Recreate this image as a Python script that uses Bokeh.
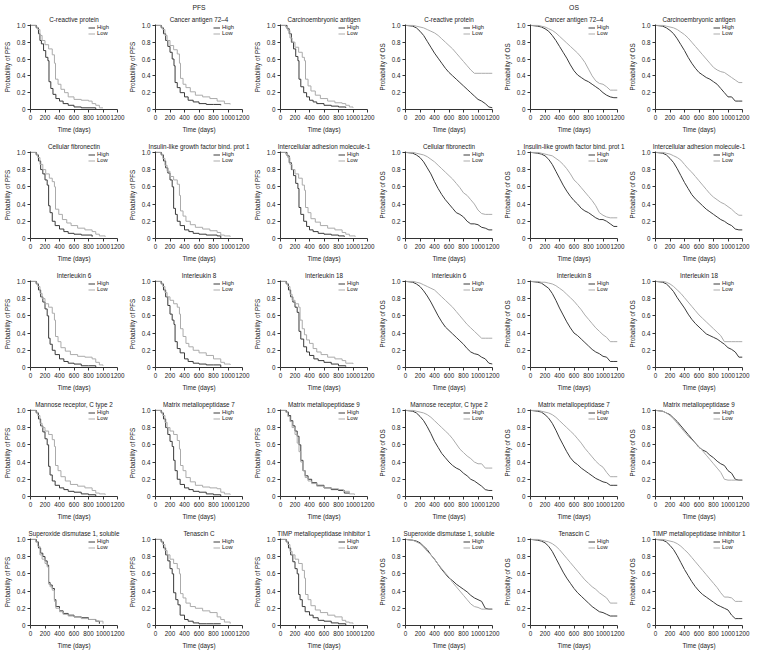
from bokeh.plotting import figure
from bokeh.layouts import gridplot
from bokeh.models import Range1d, FixedTicker, Title, Legend, LegendItem, PrintfTickFormatter
from bokeh.embed import file_html
from bokeh.resources import INLINE

FONT = "Liberation Sans"
HIGH_COLOR = "#3a3a3a"
LOW_COLOR = "#ababab"
TEXT_COLOR = "#222222"

X_TICKS = [0, 200, 400, 600, 800, 1000, 1200]
Y_TICKS = [0, 0.2, 0.4, 0.6, 0.8, 1.0]

MARKERS = [
    "C-reactive protein", "Cancer antigen 72\u20134", "Carcinoembryonic antigen",
    "Cellular fibronectin", "Insulin-like growth factor bind. prot 1", "Intercellular adhesion molecule-1",
    "Interleukin 6", "Interleukin 8", "Interleukin 18",
    "Mannose receptor, C type 2", "Matrix metallopeptidase 7", "Matrix metallopeptidase 9",
    "Superoxide dismutase 1, soluble", "Tenascin C", "TIMP metallopeptidase inhibitor 1",
]

# ---------------- PFS (per-curve step points) ----------------
PFS_CRP_HIGH_T = [0, 80, 110, 130, 150, 180, 210, 240, 255, 280, 310, 350, 400, 450, 520, 600, 700, 900]
PFS_CRP_HIGH_S = [1.0, 0.97, 0.9, 0.82, 0.78, 0.7, 0.62, 0.58, 0.33, 0.25, 0.18, 0.13, 0.1, 0.07, 0.05, 0.03, 0.02, 0.0]
PFS_CRP_LOW_T = [0, 70, 100, 130, 160, 200, 250, 300, 330, 345, 380, 420, 470, 520, 600, 700, 800, 850, 900, 950, 1000]
PFS_CRP_LOW_S = [1.0, 0.98, 0.95, 0.88, 0.82, 0.77, 0.72, 0.65, 0.55, 0.36, 0.3, 0.24, 0.2, 0.15, 0.12, 0.11, 0.1, 0.07, 0.05, 0.02, 0.02]

PFS_CA_HIGH_T = [0, 80, 110, 140, 170, 200, 230, 255, 270, 300, 340, 400, 450, 520, 600, 700, 800, 900]
PFS_CA_HIGH_S = [1.0, 0.97, 0.9, 0.82, 0.75, 0.68, 0.6, 0.52, 0.32, 0.26, 0.2, 0.15, 0.11, 0.09, 0.07, 0.06, 0.06, 0.05]
PFS_CA_LOW_T = [0, 70, 100, 130, 160, 200, 250, 300, 330, 345, 380, 420, 480, 550, 650, 750, 850, 950, 1030]
PFS_CA_LOW_S = [1.0, 0.98, 0.95, 0.88, 0.82, 0.76, 0.71, 0.66, 0.55, 0.37, 0.3, 0.26, 0.21, 0.17, 0.15, 0.13, 0.1, 0.07, 0.06]

PFS_CEA_HIGH_T = [0, 90, 120, 150, 180, 210, 240, 255, 280, 320, 360, 400, 450, 500, 600, 700, 800, 900]
PFS_CEA_HIGH_S = [1.0, 0.96, 0.9, 0.8, 0.72, 0.63, 0.58, 0.36, 0.27, 0.2, 0.15, 0.11, 0.09, 0.07, 0.05, 0.04, 0.03, 0.02]
PFS_CEA_LOW_T = [0, 70, 100, 130, 160, 200, 250, 300, 330, 345, 380, 420, 480, 550, 650, 750, 850, 900, 950, 1000]
PFS_CEA_LOW_S = [1.0, 0.98, 0.94, 0.85, 0.8, 0.74, 0.68, 0.62, 0.58, 0.36, 0.28, 0.22, 0.17, 0.13, 0.1, 0.08, 0.07, 0.05, 0.03, 0.02]

PFS_CF_HIGH_T = [0, 80, 110, 140, 170, 200, 230, 250, 270, 300, 340, 400, 460, 520, 600, 700, 850]
PFS_CF_HIGH_S = [1.0, 0.97, 0.9, 0.8, 0.75, 0.68, 0.62, 0.38, 0.3, 0.2, 0.15, 0.11, 0.08, 0.06, 0.05, 0.04, 0.02]
PFS_CF_LOW_T = [0, 70, 100, 130, 170, 210, 260, 300, 330, 345, 390, 440, 500, 560, 650, 750, 850, 900, 950, 1030]
PFS_CF_LOW_S = [1.0, 0.98, 0.94, 0.86, 0.8, 0.75, 0.7, 0.66, 0.6, 0.34, 0.28, 0.22, 0.18, 0.15, 0.12, 0.1, 0.08, 0.05, 0.03, 0.02]

PFS_IGF_HIGH_T = [0, 80, 110, 140, 170, 200, 230, 250, 275, 300, 340, 400, 460, 520, 600, 700, 850, 900]
PFS_IGF_HIGH_S = [1.0, 0.97, 0.9, 0.82, 0.76, 0.68, 0.6, 0.35, 0.28, 0.2, 0.15, 0.1, 0.08, 0.06, 0.05, 0.04, 0.03, 0.0]
PFS_IGF_LOW_T = [0, 70, 100, 130, 160, 200, 250, 300, 330, 345, 380, 420, 480, 550, 650, 750, 850, 900, 950, 1030]
PFS_IGF_LOW_S = [1.0, 0.98, 0.93, 0.85, 0.78, 0.72, 0.68, 0.63, 0.5, 0.32, 0.26, 0.2, 0.16, 0.13, 0.11, 0.09, 0.07, 0.04, 0.03, 0.02]

PFS_ICAM_HIGH_T = [0, 90, 120, 150, 180, 210, 240, 255, 280, 320, 360, 400, 450, 520, 600, 700, 800, 880]
PFS_ICAM_HIGH_S = [1.0, 0.96, 0.88, 0.8, 0.73, 0.64, 0.58, 0.36, 0.28, 0.2, 0.14, 0.1, 0.08, 0.06, 0.05, 0.04, 0.03, 0.02]
PFS_ICAM_LOW_T = [0, 70, 100, 130, 160, 200, 250, 300, 330, 345, 380, 420, 480, 550, 650, 750, 850, 900, 950, 1030]
PFS_ICAM_LOW_S = [1.0, 0.98, 0.94, 0.86, 0.8, 0.75, 0.7, 0.62, 0.56, 0.36, 0.3, 0.23, 0.19, 0.15, 0.12, 0.1, 0.07, 0.05, 0.03, 0.02]

PFS_IL6_HIGH_T = [0, 80, 110, 140, 170, 200, 230, 250, 270, 300, 340, 400, 460, 520, 600, 700, 800, 900]
PFS_IL6_HIGH_S = [1.0, 0.97, 0.9, 0.82, 0.76, 0.68, 0.6, 0.34, 0.27, 0.2, 0.15, 0.1, 0.07, 0.05, 0.04, 0.02, 0.02, 0.0]
PFS_IL6_LOW_T = [0, 70, 100, 130, 160, 200, 250, 300, 330, 345, 380, 420, 480, 550, 650, 750, 850, 900, 950, 1000]
PFS_IL6_LOW_S = [1.0, 0.98, 0.94, 0.86, 0.8, 0.74, 0.7, 0.63, 0.55, 0.36, 0.3, 0.23, 0.19, 0.15, 0.13, 0.12, 0.1, 0.06, 0.03, 0.02]

PFS_IL8_HIGH_T = [0, 80, 110, 140, 170, 200, 230, 255, 270, 300, 340, 400, 450, 520, 600, 700, 800, 900]
PFS_IL8_HIGH_S = [1.0, 0.97, 0.9, 0.82, 0.72, 0.62, 0.55, 0.5, 0.3, 0.22, 0.17, 0.1, 0.07, 0.05, 0.04, 0.03, 0.03, 0.0]
PFS_IL8_LOW_T = [0, 70, 100, 130, 160, 200, 250, 300, 330, 345, 380, 420, 460, 520, 600, 700, 800, 900, 950, 1030]
PFS_IL8_LOW_S = [1.0, 0.98, 0.94, 0.87, 0.82, 0.78, 0.74, 0.7, 0.62, 0.45, 0.36, 0.28, 0.24, 0.2, 0.17, 0.14, 0.1, 0.06, 0.04, 0.03]

PFS_IL18_HIGH_T = [0, 80, 110, 140, 170, 200, 230, 255, 280, 320, 360, 400, 460, 520, 600, 700, 800, 900]
PFS_IL18_HIGH_S = [1.0, 0.97, 0.9, 0.82, 0.76, 0.7, 0.64, 0.42, 0.33, 0.24, 0.18, 0.14, 0.1, 0.08, 0.06, 0.04, 0.02, 0.01]
PFS_IL18_LOW_T = [0, 70, 100, 130, 160, 200, 250, 270, 300, 330, 360, 400, 450, 500, 560, 650, 750, 850, 900, 1000]
PFS_IL18_LOW_S = [1.0, 0.98, 0.94, 0.85, 0.78, 0.74, 0.7, 0.55, 0.45, 0.38, 0.32, 0.28, 0.22, 0.18, 0.15, 0.12, 0.1, 0.08, 0.05, 0.04]

PFS_MRC_HIGH_T = [0, 80, 110, 140, 170, 200, 230, 250, 270, 300, 340, 400, 460, 520, 600, 700, 800, 900]
PFS_MRC_HIGH_S = [1.0, 0.97, 0.9, 0.82, 0.75, 0.67, 0.6, 0.35, 0.25, 0.18, 0.13, 0.1, 0.08, 0.06, 0.05, 0.03, 0.02, 0.0]
PFS_MRC_LOW_T = [0, 70, 100, 130, 160, 200, 250, 300, 330, 345, 380, 420, 480, 550, 650, 750, 850, 900, 950, 1030]
PFS_MRC_LOW_S = [1.0, 0.98, 0.94, 0.85, 0.8, 0.76, 0.72, 0.66, 0.58, 0.36, 0.3, 0.23, 0.18, 0.14, 0.12, 0.1, 0.07, 0.04, 0.03, 0.02]

PFS_MMP7_HIGH_T = [0, 80, 110, 140, 170, 200, 230, 250, 270, 300, 340, 400, 460, 520, 600, 700, 800, 900]
PFS_MMP7_HIGH_S = [1.0, 0.97, 0.9, 0.8, 0.72, 0.64, 0.58, 0.42, 0.3, 0.2, 0.14, 0.1, 0.08, 0.06, 0.05, 0.03, 0.02, 0.0]
PFS_MMP7_LOW_T = [0, 70, 100, 130, 160, 200, 250, 300, 330, 345, 380, 420, 480, 550, 650, 750, 850, 900, 950, 1030]
PFS_MMP7_LOW_S = [1.0, 0.98, 0.94, 0.86, 0.8, 0.76, 0.72, 0.65, 0.55, 0.36, 0.3, 0.22, 0.17, 0.13, 0.11, 0.1, 0.09, 0.05, 0.03, 0.02]

PFS_MMP9_HIGH_T = [0, 80, 110, 140, 170, 200, 230, 255, 280, 310, 340, 380, 430, 500, 600, 700, 800, 880, 950]
PFS_MMP9_HIGH_S = [1.0, 0.98, 0.94, 0.88, 0.82, 0.76, 0.7, 0.6, 0.42, 0.3, 0.24, 0.2, 0.16, 0.13, 0.1, 0.08, 0.07, 0.04, 0.03]
PFS_MMP9_LOW_T = [0, 70, 100, 130, 160, 200, 230, 255, 280, 310, 340, 380, 430, 500, 600, 700, 800, 870, 950, 1020]
PFS_MMP9_LOW_S = [1.0, 0.98, 0.93, 0.87, 0.8, 0.72, 0.62, 0.52, 0.4, 0.3, 0.22, 0.18, 0.15, 0.12, 0.1, 0.09, 0.08, 0.06, 0.03, 0.02]

PFS_SOD_HIGH_T = [0, 80, 110, 140, 170, 200, 230, 250, 270, 300, 330, 350, 400, 450, 520, 600, 700, 800, 900, 950]
PFS_SOD_HIGH_S = [1.0, 0.97, 0.9, 0.84, 0.8, 0.75, 0.7, 0.5, 0.47, 0.43, 0.3, 0.22, 0.17, 0.14, 0.12, 0.1, 0.09, 0.07, 0.05, 0.02]
PFS_SOD_LOW_T = [0, 70, 100, 130, 160, 200, 230, 250, 270, 300, 330, 350, 400, 450, 520, 600, 700, 800, 900, 1000]
PFS_SOD_LOW_S = [1.0, 0.97, 0.92, 0.82, 0.77, 0.72, 0.68, 0.48, 0.45, 0.41, 0.28, 0.2, 0.16, 0.13, 0.11, 0.1, 0.08, 0.07, 0.05, 0.02]

PFS_TNC_HIGH_T = [0, 80, 110, 140, 170, 200, 230, 250, 280, 310, 340, 400, 450, 520, 600, 700, 800, 900]
PFS_TNC_HIGH_S = [1.0, 0.97, 0.9, 0.82, 0.75, 0.66, 0.6, 0.38, 0.3, 0.24, 0.12, 0.07, 0.05, 0.03, 0.02, 0.02, 0.02, 0.02]
PFS_TNC_LOW_T = [0, 70, 100, 130, 160, 200, 250, 300, 330, 345, 380, 420, 480, 550, 650, 750, 850, 900, 950, 1030]
PFS_TNC_LOW_S = [1.0, 0.98, 0.94, 0.87, 0.82, 0.77, 0.72, 0.66, 0.6, 0.37, 0.32, 0.26, 0.22, 0.2, 0.17, 0.15, 0.1, 0.07, 0.04, 0.02]

PFS_TIMP_HIGH_T = [0, 80, 110, 140, 170, 200, 230, 250, 270, 300, 340, 400, 450, 520, 600, 700, 800, 900]
PFS_TIMP_HIGH_S = [1.0, 0.97, 0.9, 0.82, 0.74, 0.66, 0.6, 0.36, 0.3, 0.22, 0.16, 0.12, 0.09, 0.06, 0.05, 0.03, 0.02, 0.0]
PFS_TIMP_LOW_T = [0, 70, 100, 130, 160, 200, 250, 300, 330, 345, 380, 420, 480, 550, 650, 750, 850, 900, 950, 1000]
PFS_TIMP_LOW_S = [1.0, 0.98, 0.94, 0.86, 0.82, 0.77, 0.72, 0.64, 0.55, 0.36, 0.3, 0.23, 0.18, 0.15, 0.12, 0.1, 0.06, 0.04, 0.03, 0.02]

# ---------------- OS (values read at shared times) ----------------
OS_T = [0, 100, 150, 200, 250, 300, 350, 400, 450, 500, 550, 600, 650, 700, 750, 800, 850, 900, 950, 1000, 1050, 1100, 1150, 1200]

OS_CRP_HIGH = [1.0, 0.99, 0.97, 0.93, 0.88, 0.81, 0.74, 0.67, 0.61, 0.55, 0.49, 0.44, 0.40, 0.36, 0.32, 0.28, 0.24, 0.20, 0.16, 0.12, 0.10, 0.07, 0.03, 0.02]
OS_CRP_LOW = [1.0, 1.0, 0.99, 0.98, 0.97, 0.95, 0.93, 0.91, 0.88, 0.84, 0.80, 0.76, 0.72, 0.67, 0.62, 0.57, 0.52, 0.47, 0.43, 0.43, 0.43, 0.43, 0.43, 0.43]
OS_CA_HIGH = [1.0, 0.99, 0.98, 0.96, 0.93, 0.88, 0.82, 0.75, 0.68, 0.61, 0.53, 0.46, 0.41, 0.38, 0.35, 0.33, 0.30, 0.27, 0.24, 0.20, 0.17, 0.15, 0.14, 0.14]
OS_CA_LOW = [1.0, 1.0, 0.99, 0.98, 0.96, 0.94, 0.91, 0.87, 0.83, 0.79, 0.75, 0.71, 0.67, 0.62, 0.56, 0.48, 0.40, 0.34, 0.31, 0.30, 0.27, 0.23, 0.23, 0.23]
OS_CEA_HIGH = [1.0, 0.99, 0.97, 0.94, 0.90, 0.84, 0.77, 0.70, 0.62, 0.55, 0.49, 0.44, 0.41, 0.38, 0.36, 0.33, 0.30, 0.25, 0.20, 0.15, 0.15, 0.10, 0.10, 0.10]
OS_CEA_LOW = [1.0, 1.0, 0.99, 0.98, 0.97, 0.95, 0.92, 0.89, 0.85, 0.80, 0.75, 0.70, 0.65, 0.60, 0.55, 0.50, 0.47, 0.45, 0.44, 0.41, 0.38, 0.35, 0.32, 0.32]
OS_CF_HIGH = [1.0, 0.99, 0.97, 0.94, 0.89, 0.82, 0.75, 0.66, 0.58, 0.51, 0.45, 0.40, 0.35, 0.30, 0.28, 0.25, 0.20, 0.17, 0.17, 0.16, 0.13, 0.12, 0.10, 0.10]
OS_CF_LOW = [1.0, 1.0, 0.99, 0.98, 0.97, 0.95, 0.92, 0.89, 0.85, 0.81, 0.77, 0.73, 0.69, 0.64, 0.59, 0.53, 0.50, 0.45, 0.40, 0.33, 0.29, 0.28, 0.28, 0.28]
OS_IGF_HIGH = [1.0, 0.99, 0.98, 0.96, 0.92, 0.86, 0.78, 0.70, 0.62, 0.55, 0.49, 0.44, 0.40, 0.35, 0.32, 0.30, 0.27, 0.24, 0.22, 0.22, 0.20, 0.17, 0.14, 0.14]
OS_IGF_LOW = [1.0, 1.0, 0.99, 0.98, 0.97, 0.96, 0.93, 0.90, 0.86, 0.81, 0.75, 0.68, 0.64, 0.59, 0.54, 0.49, 0.44, 0.38, 0.30, 0.27, 0.25, 0.24, 0.24, 0.24]
OS_ICAM_HIGH = [1.0, 0.99, 0.97, 0.93, 0.88, 0.81, 0.73, 0.65, 0.58, 0.51, 0.46, 0.42, 0.38, 0.34, 0.31, 0.28, 0.25, 0.22, 0.20, 0.17, 0.15, 0.11, 0.10, 0.10]
OS_ICAM_LOW = [1.0, 1.0, 0.99, 0.98, 0.96, 0.94, 0.91, 0.86, 0.81, 0.77, 0.72, 0.67, 0.62, 0.57, 0.52, 0.48, 0.45, 0.42, 0.40, 0.37, 0.34, 0.30, 0.27, 0.27]
OS_IL6_HIGH = [1.0, 0.99, 0.97, 0.94, 0.89, 0.83, 0.76, 0.68, 0.60, 0.53, 0.47, 0.43, 0.39, 0.35, 0.31, 0.27, 0.22, 0.18, 0.16, 0.15, 0.12, 0.10, 0.05, 0.04]
OS_IL6_LOW = [1.0, 1.0, 0.99, 0.98, 0.96, 0.94, 0.92, 0.90, 0.86, 0.82, 0.78, 0.74, 0.70, 0.65, 0.60, 0.55, 0.50, 0.46, 0.42, 0.38, 0.34, 0.34, 0.34, 0.34]
OS_IL8_HIGH = [1.0, 0.99, 0.98, 0.95, 0.92, 0.86, 0.78, 0.69, 0.61, 0.53, 0.46, 0.40, 0.37, 0.33, 0.29, 0.25, 0.21, 0.18, 0.16, 0.13, 0.12, 0.07, 0.07, 0.07]
OS_IL8_LOW = [1.0, 1.0, 0.99, 0.99, 0.98, 0.97, 0.95, 0.92, 0.89, 0.85, 0.81, 0.77, 0.72, 0.67, 0.61, 0.56, 0.51, 0.46, 0.42, 0.38, 0.35, 0.30, 0.30, 0.30]
OS_IL18_HIGH = [1.0, 0.99, 0.97, 0.93, 0.88, 0.81, 0.75, 0.69, 0.62, 0.56, 0.51, 0.47, 0.43, 0.39, 0.37, 0.35, 0.33, 0.30, 0.27, 0.23, 0.21, 0.18, 0.12, 0.12]
OS_IL18_LOW = [1.0, 1.0, 0.99, 0.97, 0.94, 0.90, 0.86, 0.81, 0.76, 0.71, 0.66, 0.61, 0.57, 0.53, 0.49, 0.45, 0.41, 0.37, 0.30, 0.30, 0.30, 0.30, 0.30, 0.30]
OS_MRC_HIGH = [1.0, 0.99, 0.97, 0.93, 0.88, 0.81, 0.73, 0.64, 0.57, 0.50, 0.45, 0.40, 0.36, 0.33, 0.31, 0.27, 0.24, 0.20, 0.18, 0.15, 0.12, 0.08, 0.07, 0.07]
OS_MRC_LOW = [1.0, 1.0, 0.99, 0.98, 0.97, 0.95, 0.92, 0.88, 0.84, 0.80, 0.76, 0.72, 0.67, 0.61, 0.55, 0.51, 0.47, 0.44, 0.40, 0.38, 0.38, 0.33, 0.33, 0.33]
OS_MMP7_HIGH = [1.0, 0.99, 0.98, 0.95, 0.91, 0.85, 0.77, 0.68, 0.60, 0.52, 0.45, 0.40, 0.37, 0.33, 0.30, 0.27, 0.24, 0.21, 0.19, 0.17, 0.16, 0.13, 0.13, 0.13]
OS_MMP7_LOW = [1.0, 1.0, 0.99, 0.98, 0.97, 0.95, 0.92, 0.88, 0.84, 0.80, 0.76, 0.72, 0.67, 0.62, 0.56, 0.51, 0.46, 0.41, 0.37, 0.34, 0.28, 0.23, 0.23, 0.23]
OS_MMP9_HIGH = [1.0, 0.99, 0.97, 0.95, 0.91, 0.87, 0.82, 0.77, 0.72, 0.67, 0.62, 0.57, 0.54, 0.52, 0.48, 0.45, 0.41, 0.38, 0.36, 0.30, 0.27, 0.20, 0.19, 0.19]
OS_MMP9_LOW = [1.0, 0.99, 0.97, 0.94, 0.90, 0.85, 0.80, 0.75, 0.70, 0.66, 0.62, 0.58, 0.53, 0.48, 0.43, 0.38, 0.33, 0.28, 0.20, 0.19, 0.19, 0.19, 0.19, 0.19]
OS_SOD_HIGH = [1.0, 0.99, 0.98, 0.96, 0.92, 0.88, 0.82, 0.77, 0.71, 0.65, 0.60, 0.55, 0.52, 0.48, 0.45, 0.42, 0.39, 0.35, 0.32, 0.30, 0.28, 0.20, 0.19, 0.19]
OS_SOD_LOW = [1.0, 0.99, 0.97, 0.95, 0.91, 0.86, 0.82, 0.77, 0.71, 0.66, 0.61, 0.56, 0.50, 0.45, 0.40, 0.35, 0.30, 0.25, 0.22, 0.21, 0.19, 0.19, 0.19, 0.19]
OS_TNC_HIGH = [1.0, 0.99, 0.98, 0.96, 0.92, 0.86, 0.78, 0.70, 0.62, 0.55, 0.49, 0.43, 0.38, 0.34, 0.30, 0.26, 0.22, 0.19, 0.16, 0.15, 0.13, 0.11, 0.11, 0.11]
OS_TNC_LOW = [1.0, 1.0, 0.99, 0.98, 0.97, 0.95, 0.92, 0.88, 0.83, 0.78, 0.73, 0.68, 0.63, 0.58, 0.53, 0.49, 0.45, 0.42, 0.38, 0.35, 0.32, 0.26, 0.26, 0.26]
OS_TIMP_HIGH = [1.0, 0.99, 0.97, 0.93, 0.88, 0.81, 0.73, 0.65, 0.58, 0.51, 0.45, 0.40, 0.36, 0.33, 0.30, 0.27, 0.24, 0.22, 0.20, 0.18, 0.12, 0.08, 0.08, 0.08]
OS_TIMP_LOW = [1.0, 1.0, 0.99, 0.98, 0.97, 0.95, 0.92, 0.88, 0.84, 0.79, 0.74, 0.69, 0.64, 0.59, 0.54, 0.49, 0.44, 0.38, 0.33, 0.33, 0.32, 0.28, 0.28, 0.28]

PFS_CURVES = [
    ((PFS_CRP_HIGH_T, PFS_CRP_HIGH_S), (PFS_CRP_LOW_T, PFS_CRP_LOW_S)),
    ((PFS_CA_HIGH_T, PFS_CA_HIGH_S), (PFS_CA_LOW_T, PFS_CA_LOW_S)),
    ((PFS_CEA_HIGH_T, PFS_CEA_HIGH_S), (PFS_CEA_LOW_T, PFS_CEA_LOW_S)),
    ((PFS_CF_HIGH_T, PFS_CF_HIGH_S), (PFS_CF_LOW_T, PFS_CF_LOW_S)),
    ((PFS_IGF_HIGH_T, PFS_IGF_HIGH_S), (PFS_IGF_LOW_T, PFS_IGF_LOW_S)),
    ((PFS_ICAM_HIGH_T, PFS_ICAM_HIGH_S), (PFS_ICAM_LOW_T, PFS_ICAM_LOW_S)),
    ((PFS_IL6_HIGH_T, PFS_IL6_HIGH_S), (PFS_IL6_LOW_T, PFS_IL6_LOW_S)),
    ((PFS_IL8_HIGH_T, PFS_IL8_HIGH_S), (PFS_IL8_LOW_T, PFS_IL8_LOW_S)),
    ((PFS_IL18_HIGH_T, PFS_IL18_HIGH_S), (PFS_IL18_LOW_T, PFS_IL18_LOW_S)),
    ((PFS_MRC_HIGH_T, PFS_MRC_HIGH_S), (PFS_MRC_LOW_T, PFS_MRC_LOW_S)),
    ((PFS_MMP7_HIGH_T, PFS_MMP7_HIGH_S), (PFS_MMP7_LOW_T, PFS_MMP7_LOW_S)),
    ((PFS_MMP9_HIGH_T, PFS_MMP9_HIGH_S), (PFS_MMP9_LOW_T, PFS_MMP9_LOW_S)),
    ((PFS_SOD_HIGH_T, PFS_SOD_HIGH_S), (PFS_SOD_LOW_T, PFS_SOD_LOW_S)),
    ((PFS_TNC_HIGH_T, PFS_TNC_HIGH_S), (PFS_TNC_LOW_T, PFS_TNC_LOW_S)),
    ((PFS_TIMP_HIGH_T, PFS_TIMP_HIGH_S), (PFS_TIMP_LOW_T, PFS_TIMP_LOW_S)),
]
OS_CURVES = [
    ((OS_T, OS_CRP_HIGH), (OS_T, OS_CRP_LOW)),
    ((OS_T, OS_CA_HIGH), (OS_T, OS_CA_LOW)),
    ((OS_T, OS_CEA_HIGH), (OS_T, OS_CEA_LOW)),
    ((OS_T, OS_CF_HIGH), (OS_T, OS_CF_LOW)),
    ((OS_T, OS_IGF_HIGH), (OS_T, OS_IGF_LOW)),
    ((OS_T, OS_ICAM_HIGH), (OS_T, OS_ICAM_LOW)),
    ((OS_T, OS_IL6_HIGH), (OS_T, OS_IL6_LOW)),
    ((OS_T, OS_IL8_HIGH), (OS_T, OS_IL8_LOW)),
    ((OS_T, OS_IL18_HIGH), (OS_T, OS_IL18_LOW)),
    ((OS_T, OS_MRC_HIGH), (OS_T, OS_MRC_LOW)),
    ((OS_T, OS_MMP7_HIGH), (OS_T, OS_MMP7_LOW)),
    ((OS_T, OS_MMP9_HIGH), (OS_T, OS_MMP9_LOW)),
    ((OS_T, OS_SOD_HIGH), (OS_T, OS_SOD_LOW)),
    ((OS_T, OS_TNC_HIGH), (OS_T, OS_TNC_LOW)),
    ((OS_T, OS_TIMP_HIGH), (OS_T, OS_TIMP_LOW)),
]

PANEL_W = 125
ROW1_H = 135
ROW_H = 129


def make_panel(name, endpoint, curves, use_step, height, top_border, header=None):
    p = figure(width=PANEL_W, height=height,
               min_border_left=22, min_border_right=8,
               min_border_top=top_border, min_border_bottom=22,
               x_range=Range1d(0, 1200), y_range=Range1d(0, 1.01),
               toolbar_location=None, output_backend="svg", title=None)
    p.add_layout(Title(text=name, align="center", text_font=FONT,
                       text_font_size="6.3px", text_font_style="normal",
                       text_color=TEXT_COLOR, standoff=4), "above")
    if header:
        p.add_layout(Title(text=header, align="center", text_font=FONT,
                           text_font_size="6.8px", text_font_style="normal",
                           text_color=TEXT_COLOR, standoff=2), "above")
    (hx, hy), (lx, ly) = curves
    if use_step:
        rh = p.step(hx, hy, mode="after", line_color=HIGH_COLOR, line_width=1)
        rl = p.step(lx, ly, mode="after", line_color=LOW_COLOR, line_width=1)
    else:
        rh = p.line(hx, hy, line_color=HIGH_COLOR, line_width=1)
        rl = p.line(lx, ly, line_color=LOW_COLOR, line_width=1)
    legend = Legend(items=[LegendItem(label="High", renderers=[rh]),
                           LegendItem(label="Low", renderers=[rl])],
                    location="top_right", border_line_alpha=0,
                    background_fill_alpha=0, label_text_font=FONT,
                    label_text_font_size="5.8px", label_text_color=TEXT_COLOR,
                    glyph_width=7, glyph_height=5, label_height=5,
                    label_standoff=2, spacing=0, padding=0, margin=0)
    p.add_layout(legend)
    p.xaxis.ticker = FixedTicker(ticks=X_TICKS)
    p.yaxis.ticker = FixedTicker(ticks=Y_TICKS)
    p.yaxis.formatter = PrintfTickFormatter(format="%.1f")
    p.yaxis.major_label_overrides = {0: "0"}
    p.xaxis.axis_label = "Time (days)"
    p.yaxis.axis_label = "Probability of " + endpoint
    for ax in (p.xaxis[0], p.yaxis[0]):
        ax.axis_line_color = "#333333"
        ax.major_tick_line_color = "#333333"
        ax.minor_tick_line_color = None
        ax.major_tick_in = 0
        ax.major_tick_out = 3
        ax.major_label_standoff = 2
        ax.major_label_text_font = FONT
        ax.major_label_text_font_size = "6.3px"
        ax.major_label_text_color = TEXT_COLOR
        ax.axis_label_text_font = FONT
        ax.axis_label_text_font_size = "6.3px"
        ax.axis_label_text_font_style = "normal"
        ax.axis_label_text_color = TEXT_COLOR
        ax.axis_label_standoff = 3
    p.xgrid.visible = False
    p.ygrid.visible = False
    p.outline_line_color = None
    p.background_fill_color = "white"
    return p


rows = []
for r in range(5):
    top = 23 if r == 0 else 16
    h = ROW1_H if r == 0 else ROW_H
    row = []
    for c in range(3):
        i = r * 3 + c
        hdr = "PFS" if (r == 0 and c == 1) else None
        row.append(make_panel(MARKERS[i], "PFS", PFS_CURVES[i], True, h, top, hdr))
    for c in range(3):
        i = r * 3 + c
        hdr = "OS" if (r == 0 and c == 1) else None
        row.append(make_panel(MARKERS[i], "OS", OS_CURVES[i], False, h, top, hdr))
    rows.append(row)

p = gridplot(rows, toolbar_location=None)

open("out.html", "w").write(file_html(p, INLINE))
